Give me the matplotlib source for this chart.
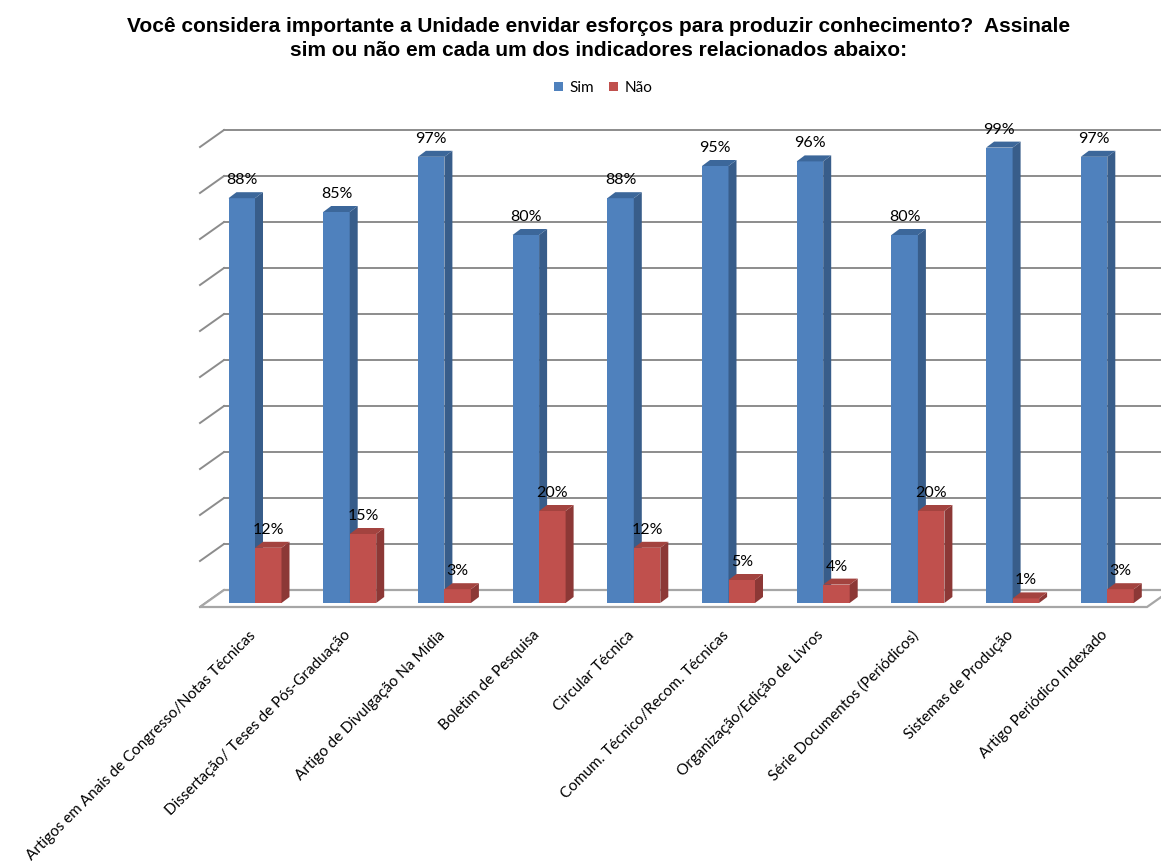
import matplotlib
matplotlib.use("Agg")
import matplotlib.pyplot as plt
from matplotlib.patches import Polygon, Patch
from matplotlib.lines import Line2D

categories = [
    "Artigos em Anais de Congresso/Notas Técnicas",
    "Dissertação/ Teses de Pós-Graduação",
    "Artigo de Divulgação Na Mídia",
    "Boletim de Pesquisa",
    "Circular Técnica",
    "Comum. Técnico/Recom. Técnicas",
    "Organização/Edição de Livros",
    "Série Documentos (Periódicos)",
    "Sistemas de Produção",
    "Artigo Periódico Indexado",
]
sim = [88, 85, 97, 80, 88, 95, 96, 80, 99, 97]
nao = [12, 15, 3, 20, 12, 5, 4, 20, 1, 3]
series_names = ["Sim", "Não"]
grid_values = list(range(0, 101, 10))

W, H = 1161, 861
fig = plt.figure(figsize=(W / 100, H / 100), dpi=100)
fig.patch.set_facecolor("white")

# axes placement (pixels)
ax_l, ax_r, ax_b, ax_t = 195, 1161, 640, 115
ax = fig.add_axes([ax_l / W, 1 - ax_b / H, (ax_r - ax_l) / W, (ax_b - ax_t) / H])
px_x0, px_step = 255, 94.7
py_0, py_step = 603, 4.6
ax.set_xlim((ax_l - px_x0) / px_step, (ax_r - px_x0) / px_step)
ax.set_ylim((py_0 - ax_b) / py_step, (py_0 - ax_t) / py_step)
ax.axis("off")

# 3D-like geometry in data units
wall_dx, wall_dy = 24 / px_step, 17 / py_step
floor_y = (py_0 - 607) / py_step
left_x = (200 - px_x0) / px_step
right_x = (1147 - px_x0) / px_step
grid_color = "#8c8c8c"

for g in grid_values:
    yf = floor_y + g
    yb = yf + wall_dy
    ax.add_line(Line2D([left_x, left_x + wall_dx], [yf, yb], color=grid_color, lw=1.4, zorder=1))
    ax.add_line(Line2D([left_x + wall_dx, 20], [yb, yb], color=grid_color, lw=1.4, zorder=1))

# floor
floor = Polygon([(left_x, floor_y), (right_x, floor_y), (right_x + wall_dx, floor_y + wall_dy),
                 (left_x + wall_dx, floor_y + wall_dy)], closed=True,
                facecolor="white", edgecolor="#a6a6a6", lw=1.6, zorder=1.5)
ax.add_patch(floor)

bw = 26.5 / px_step
bdx, bdy = 8 / px_step, 6 / py_step
colors = {
    "Sim": ("#4f81bd", "#385d8a", "#3c679a"),
    "Não": ("#c0504d", "#8c3836", "#a3433f"),
}

z = 3
for i in range(len(categories)):
    for s, vals, off in (("Sim", sim, -bw), ("Não", nao, 0.0)):
        v = vals[i]
        x0 = i + off
        front, side, top = colors[s]
        ax.bar(x0, v, width=bw, bottom=0, align="edge", color=front, edgecolor="none", zorder=z)
        ax.add_patch(Polygon([(x0 + bw, 0), (x0 + bw + bdx, bdy), (x0 + bw + bdx, v + bdy), (x0 + bw, v)],
                             closed=True, facecolor=side, edgecolor="none", zorder=z))
        ax.add_patch(Polygon([(x0, v), (x0 + bdx, v + bdy), (x0 + bw + bdx, v + bdy), (x0 + bw, v)],
                             closed=True, facecolor=top, edgecolor="none", zorder=z))
        ax.annotate(f"{v}%", (x0 + bw / 2, v), xytext=(0, 11), textcoords="offset pixels",
                    ha="center", va="bottom", fontsize=11.5, family="Lato", color="black", zorder=z + 0.5)
        z += 1

# category labels
for i, c in enumerate(categories):
    ax.text(i - 0.07, floor_y - 4.6, c, rotation=45, rotation_mode="anchor", ha="right", va="top",
            fontsize=11, family="Lato", color="black", clip_on=False)

# title
fig.text(599 / W, 1 - 27 / H, "Você considera importante a Unidade envidar esforços para produzir conhecimento?  Assinale",
         ha="center", va="center", fontsize=15, fontweight="bold", family="Liberation Sans")
fig.text(599 / W, 1 - 50 / H, "sim ou não em cada um dos indicadores relacionados abaixo:",
         ha="center", va="center", fontsize=15, fontweight="bold", family="Liberation Sans")

# legend
handles = [Patch(facecolor=colors[s][0], edgecolor="none") for s in series_names]
fig.legend(handles, series_names, loc="center", bbox_to_anchor=(603 / W, 1 - 88 / H), ncol=2,
           frameon=False, prop={"family": "Lato", "size": 11},
           handlelength=0.6, handleheight=0.6, handletextpad=0.4, columnspacing=1.0)

fig.savefig("out.png", dpi=100, facecolor="white")
